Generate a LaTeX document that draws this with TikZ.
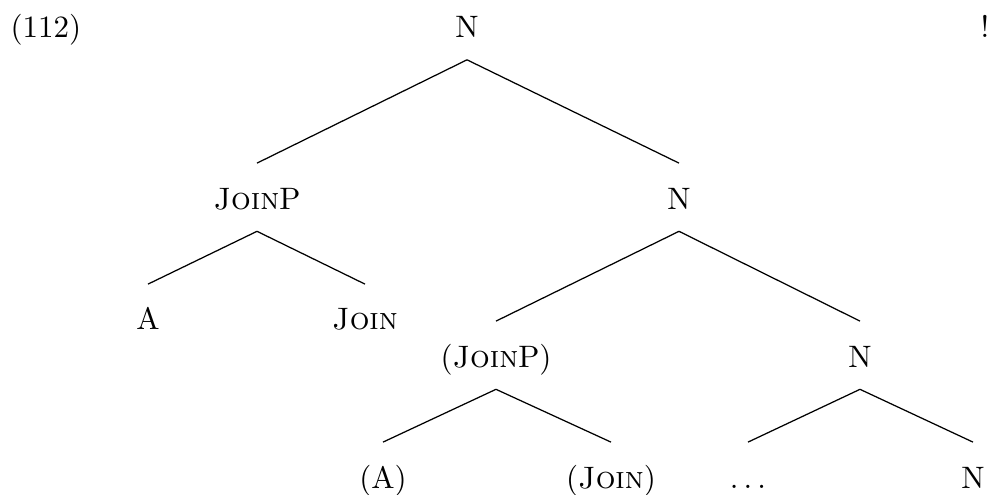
\documentclass[tikz,border=0pt]{standalone}
\begin{document}
\begin{tikzpicture}[x=0.3226pt,y=-0.3226pt,
  lbl/.style={anchor=base,inner sep=0pt},
  edge/.style={line width=0.4pt}]
\useasboundingbox (0,0) rectangle (995,495);
\node[lbl,anchor=base west] (ex) at (10,37.5) {(112)};
\node[lbl] (bang) at (985,37.5) {!};
\node[lbl] (n1) at (467,37.5) {N};
\node[lbl] (jp) at (257,209) {\textsc{Join}P};
\node[lbl] (n2) at (679,209) {N};
\node[lbl] (a) at (148,330) {A};
\node[lbl] (j) at (365,330) {\textsc{Join}};
\node[lbl] (jp2) at (496,367) {(\textsc{Join}P)};
\node[lbl] (n3) at (860,367) {N};
\node[lbl] (a2) at (383,488) {(A)};
\node[lbl] (j2) at (611,488) {(\textsc{Join})};
\node[lbl] (dots) at (748,488) {$\ldots$};
\node[lbl] (n4) at (973,488) {N};
\foreach \p/\c in {n1/jp,n1/n2,jp/a,jp/j,n2/jp2,n2/n3,jp2/a2,jp2/j2,n3/dots,n3/n4}
  \draw[edge] ([yshift=-7.2pt]\p.base) -- ([yshift=14.8pt]\c.base);
\end{tikzpicture}
\end{document}
